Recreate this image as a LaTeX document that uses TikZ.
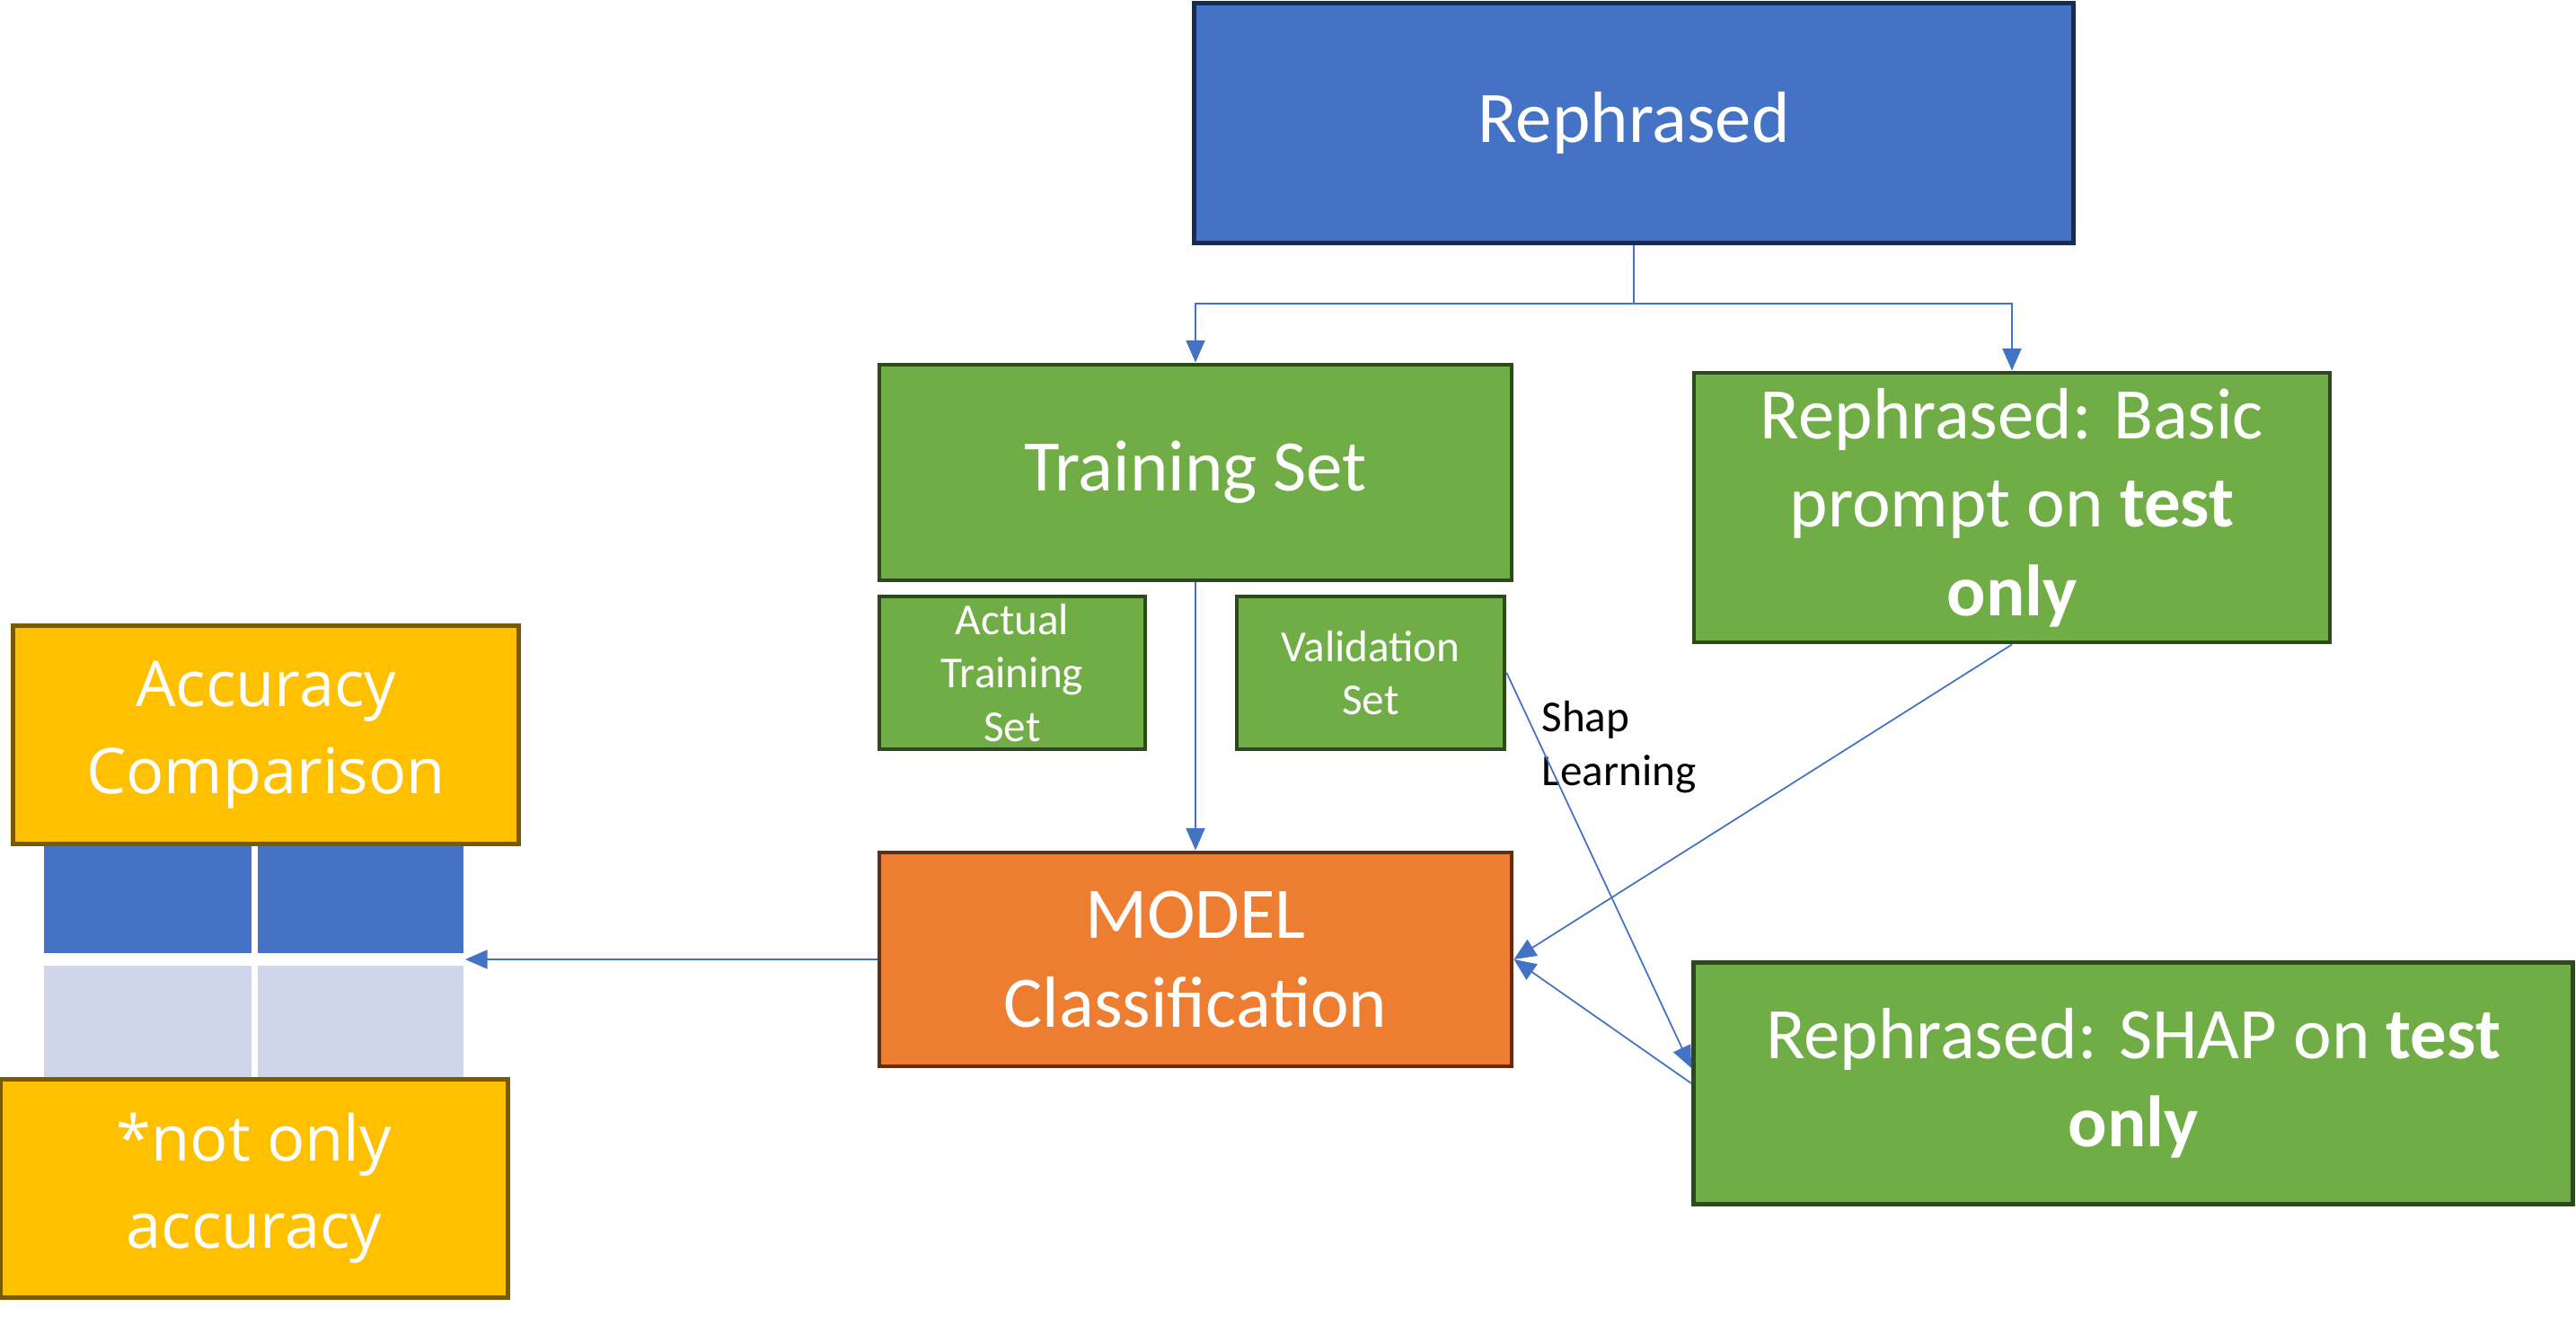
\documentclass[tikz,border=0pt]{standalone}
\usepackage{fontspec}
\setmainfont{Carlito}
\newfontfamily\accfont{Open Sans}
\usetikzlibrary{arrows.meta}

\definecolor{repblue}{HTML}{4472C4}
\definecolor{repnavy}{HTML}{172C51}
\definecolor{setgreen}{HTML}{70AD47}
\definecolor{setdark}{HTML}{2C4A1B}
\definecolor{modorange}{HTML}{ED7D31}
\definecolor{modbrown}{HTML}{612F0E}
\definecolor{accyellow}{HTML}{FFC000}
\definecolor{accbrown}{HTML}{7A5A00}
\definecolor{tbllight}{HTML}{CFD5EA}

\tikzset{
  box/.style={draw, line width=1.4pt, text=white, align=center, inner sep=2pt,
    font=\fontsize{23}{28}\selectfont},
  smallbox/.style={box, font=\fontsize{14}{17}\selectfont},
  accbox/.style={box, fill=accyellow, draw=accbrown,
    font=\accfont\fontsize{20}{27.5}\selectfont},
  link/.style={draw=repblue, line width=0.5pt, -{Triangle[length=7pt,width=6pt]}}
}

\begin{document}
\begin{tikzpicture}

  \useasboundingbox (0,0) rectangle (28.68,14.74);

  % table behind the yellow boxes
  \fill[repblue]  (0.49,4.13) rectangle (2.80,5.34);
  \fill[repblue]  (2.87,4.13) rectangle (5.16,5.34);
  \fill[tbllight] (0.49,2.72) rectangle (2.80,3.99);
  \fill[tbllight] (2.87,2.72) rectangle (5.16,3.99);
  \coordinate (tbl) at (5.18,4.06);

  \node[box, fill=repblue, draw=repnavy, minimum width=9.79cm, minimum height=2.67cm]
    (reph) at (18.19,13.37) {Rephrased};

  \begin{scope}[every node/.style={box, fill=setgreen, draw=setdark}]
    \node[minimum width=7.04cm, minimum height=2.40cm] (train) at (13.31,9.48) {Training Set};
    \node[minimum width=7.08cm, minimum height=3.00cm] (basic) at (22.40,9.09)
      {Rephrased: Basic\\prompt on \textbf{test}\\\textbf{only}};
    \node[minimum width=9.79cm, minimum height=2.69cm] (shap) at (23.75,2.68)
      {Rephrased: SHAP on \textbf{test}\\\textbf{only}};
    \node[smallbox, minimum width=2.96cm, minimum height=1.70cm] (actual) at (11.27,7.25)
      {Actual\\Training\\Set};
    \node[smallbox, minimum width=2.98cm, minimum height=1.70cm] (valid) at (15.26,7.25)
      {Validation\\Set};
  \end{scope}

  \node[box, fill=modorange, draw=modbrown, minimum width=7.04cm, minimum height=2.38cm]
    (model) at (13.31,4.06) {MODEL\\Classification};

  \node[accbox, minimum width=5.63cm, minimum height=2.43cm] (acc) at (2.96,6.56)
    {Accuracy\\Comparison};
  \node[accbox, minimum width=5.65cm, minimum height=2.43cm] (notonly) at (2.83,1.51)
    {*not only\\accuracy};

  \node[anchor=west, align=left, font=\fontsize{14}{17}\selectfont] (shaplbl) at (17.04,6.42)
    {Shap\\Learning};

  % connectors
  \coordinate (split) at (18.19,11.36);
  \draw[link, -] (reph.south) -- (split);
  \draw[link] (split) -| (train.north);
  \draw[link] (split) -| (basic.north);

  \begin{scope}[every edge/.style={link}]
    \path (train.south) edge (model.north);
    \path (basic.south) edge (model.east);
    \path (shap.west)   edge (model.east);
    \path (valid.east)  edge ([yshift=0.17cm]shap.west);
    \path (model.west)  edge (tbl);
  \end{scope}

\end{tikzpicture}
\end{document}
